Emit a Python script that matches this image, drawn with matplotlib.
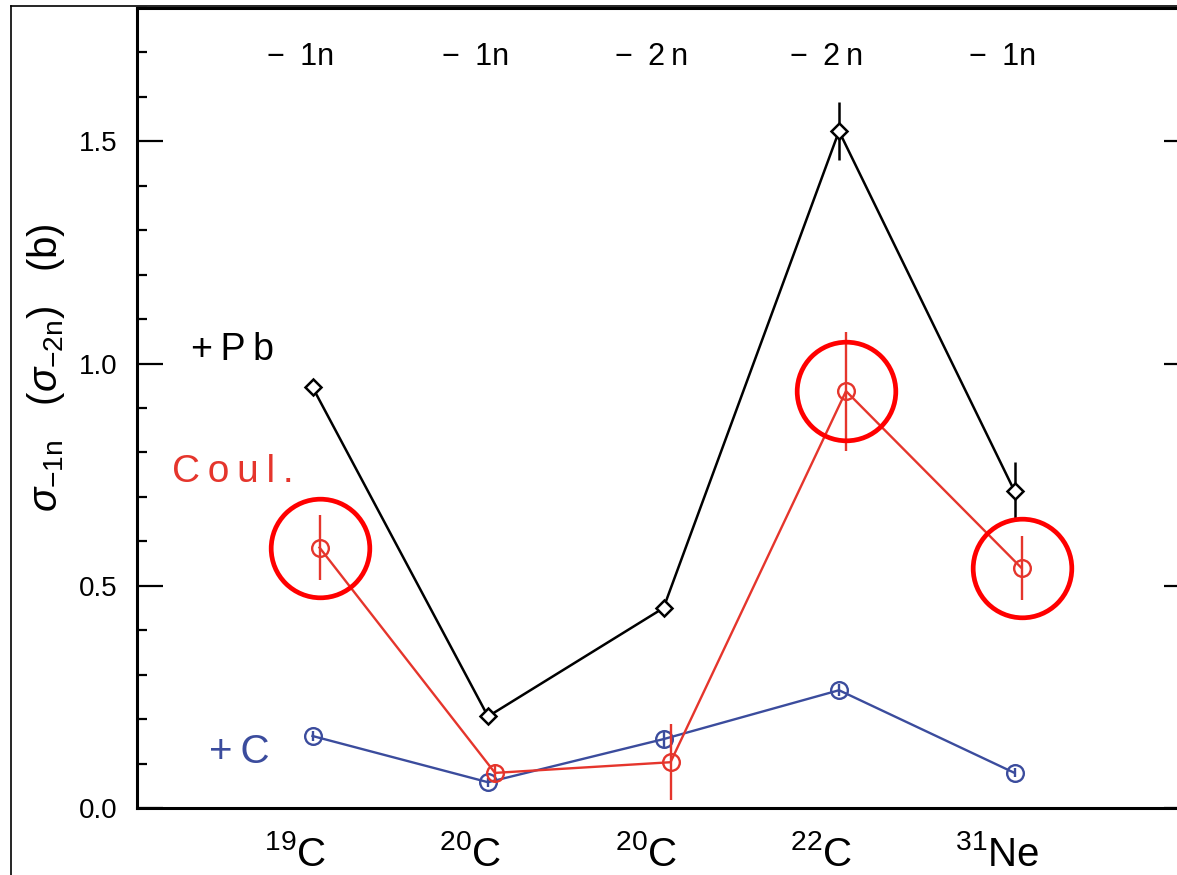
import matplotlib
matplotlib.use("Agg")
import matplotlib.pyplot as plt
from matplotlib.lines import Line2D
from matplotlib.ticker import MultipleLocator, NullLocator

plt.rcParams['font.family'] = ['Liberation Sans', 'DejaVu Sans']
plt.rcParams['mathtext.fontset'] = 'custom'
plt.rcParams['mathtext.rm'] = 'Liberation Sans'
plt.rcParams['mathtext.it'] = 'Liberation Sans:italic'
plt.rcParams['mathtext.sf'] = 'Liberation Sans'

# ---- data ----
nuclei = ["$^{19}$C", "$^{20}$C", "$^{20}$C", "$^{22}$C", "$^{31}$Ne"]
channels = ["\u2212\u20021n", "\u2212\u20021n", "\u2212\u20022\u2009n", "\u2212\u20022\u2009n", "\u2212\u20021n"]
pb_vals = [0.947, 0.206, 0.450, 1.523, 0.713]
pb_errs = [0.010, 0.008, 0.010, 0.065, 0.065]
coul_vals = [0.586, 0.079, 0.103, 0.938, 0.540]
coul_errs = [0.074, 0.020, 0.086, 0.134, 0.071]
c_vals = [0.162, 0.058, 0.155, 0.265, 0.079]
c_errs = [0.012, 0.010, 0.018, 0.014, 0.010]
highlight_idx = [0, 3, 4]

RED = "#e5352c"
BLUE = "#3b4c9d"

fig = plt.figure(figsize=(11.77, 8.75), dpi=100)
ax = fig.add_axes([137/1177, 67/875, 1053/1177, 800/875])

x = list(range(1, len(nuclei) + 1))
xc = [v + 0.04 for v in x]

ax.errorbar(x, pb_vals, yerr=pb_errs, color="black", lw=1.8, marker="D",
            ms=8, mfc="white", mec="black", mew=1.8, elinewidth=1.8, capsize=0, zorder=3)
ax.errorbar(x, c_vals, yerr=c_errs, color=BLUE, lw=1.7, marker="o",
            ms=12, mfc="none", mec=BLUE, mew=1.7, elinewidth=1.7, capsize=0, zorder=3)
ax.errorbar(xc, coul_vals, yerr=coul_errs, color=RED, lw=1.7, marker="o",
            ms=12, mfc="none", mec=RED, mew=1.7, elinewidth=1.7, capsize=0, zorder=4)

# highlight circles
hx = [xc[i] for i in highlight_idx]
hy = [coul_vals[i] for i in highlight_idx]
ax.plot(hx, hy, ls="none", marker="o", ms=71, mfc="none", mec="#ff0000", mew=3.4, zorder=5)

ax.set_xlim(0, 6)
ax.set_ylim(0, 1.8)

ax.yaxis.set_minor_locator(MultipleLocator(0.1))
ax.set_yticks([0.0, 0.5, 1.0, 1.5])
ax.set_yticklabels(["0.0", "0.5", "1.0", "1.5"])
ax.xaxis.set_major_locator(NullLocator())
ax.tick_params(axis="y", which="major", direction="in", length=19, width=1.6,
               labelsize=20, pad=14, right=True)
ax.tick_params(axis="y", which="minor", direction="in", length=7, width=1.6,
               right=False)
for s in ax.spines.values():
    s.set_linewidth(2.2)

for xi, lab in zip(x, nuclei):
    ax.text(xi - 0.1, -0.06, lab, ha="center", va="top", fontsize=29)
for xi, lab in zip(x, channels):
    ax.text(xi - 0.07, 1.69, lab, ha="center", va="center", fontsize=22)

ax.text(0.31, 1.03, "+\u2009P\u2009b", color="black", fontsize=27, va="center", ha="left")
ax.text(0.20, 0.755, "C\u2009o\u2009u\u2009l\u2009.", color=RED, fontsize=28, va="center", ha="left")
ax.text(0.41, 0.125, "+\u2009C", color=BLUE, fontsize=29, va="center", ha="left")

fig.text(46/1177, 1 - 368/875,
         r"$\sigma_{\mathrm{-1n}}\ \ \ (\sigma_{\mathrm{-2n}})\ \ \ (\mathrm{b})$",
         rotation=90, ha="center", va="center", fontsize=29)

# outer frame
fig.add_artist(Line2D([11/1177, 11/1177], [0, 1 - 6/875], transform=fig.transFigure,
                      color="black", lw=1.2))
fig.add_artist(Line2D([11/1177, 1], [1 - 6/875, 1 - 6/875], transform=fig.transFigure,
                      color="black", lw=1.2))

fig.savefig("out.png", dpi=100)
